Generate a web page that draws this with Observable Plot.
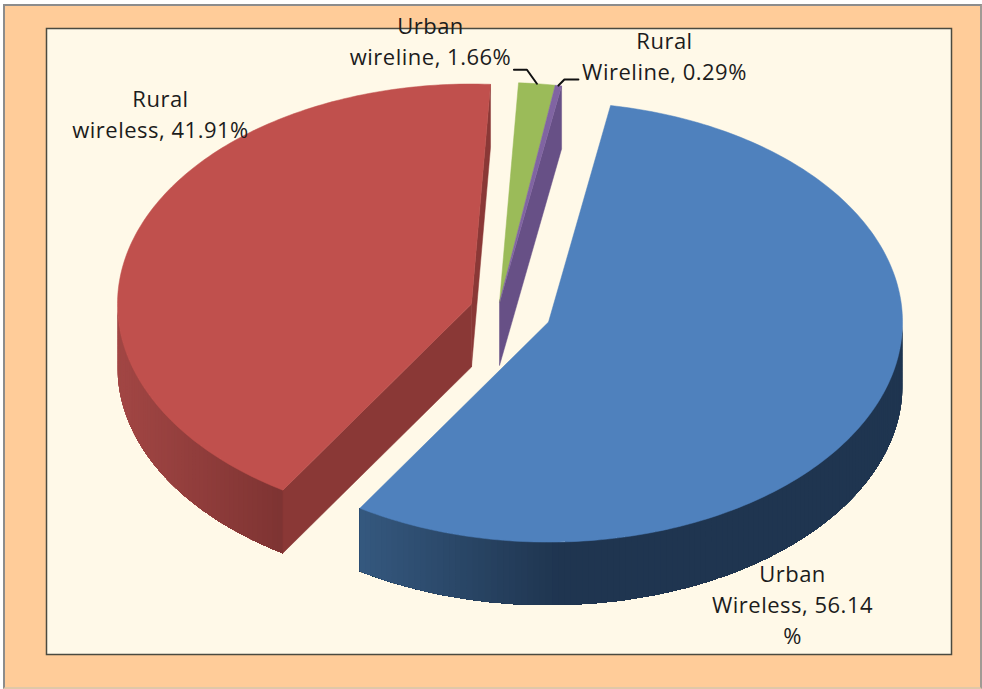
<!DOCTYPE html>
<html>
<head>
<meta charset="utf-8">
<script src="https://cdn.jsdelivr.net/npm/d3@7"></script>
<script src="https://cdn.jsdelivr.net/npm/@observablehq/plot@0.6"></script>
<style>
html,body{margin:0;padding:0;background:#fff;width:982px;height:689px;overflow:hidden}
#panel{position:absolute;left:3px;top:4px;width:975px;height:681px;background:#FFCC99;border:2px solid #8c8c8c;border-right-color:#a09a94;border-bottom-color:#e0c8a8}
#chart{position:absolute;left:0;top:0}
#chart text{letter-spacing:.5px}
</style>
</head>
<body>
<div id="panel"></div>
<div id="chart"></div>
<script>
const categories = ["Urban Wireless", "Rural wireless", "Urban wireline", "Rural Wireline"];
const shares = [56.14, 41.91, 1.66, 0.29];
const labels = ["Urban\nWireless, 56.14\n%", "Rural\nwireless, 41.91%", "Urban\nwireline, 1.66%", "Rural\nWireline, 0.29%"];
const topColors = ["#4F81BD", "#C0504D", "#9BBB59", "#8064A2"];
const firstAngle = 10.1;

// pie geometry in chart pixels
const rx = 354, ry = 220, depth = 63;
const apexes = [[548, 321.6], [471, 303.5], [499, 302], [499, 302]];
const rad = Math.PI / 180;

let acc = firstAngle;
const slices = categories.map((name, i) => {
  const a0 = acc, a1 = acc + shares[i] * 3.6;
  acc = a1;
  return {name, i, a0, a1, apex: apexes[i]};
});
const rim = (s, a) => [s.apex[0] + rx * Math.sin(a * rad), s.apex[1] - ry * Math.cos(a * rad)];
const down = ([x, y]) => [x, y + depth];

const walls = [], polys = [];
function addPoly(list, id, color, pts) {
  pts.forEach(([x, y]) => list.push({id, color, x, y}));
  list.push({id, color, x: pts[0][0], y: pts[0][1]});
}
// outer wall: overlapping runs, each one reaching to the far end so no seams show
function wall(s, a0, a1, colorAt) {
  const n = Math.ceil(Math.abs(a1 - a0));
  for (let k = 0; k < n; k++) {
    const u = a0 + (a1 - a0) * k / n;
    const top = [], bottom = [];
    for (let j = k; j <= n; j++) {
      const p = rim(s, a0 + (a1 - a0) * j / n);
      top.push(p);
      bottom.unshift(down(p));
    }
    addPoly(walls, `wall${s.i}-${k}`, colorAt(rim(s, u)[0]), [...top, ...bottom]);
  }
}
const [blue, red, green, purple] = slices;

wall(red, 270, red.a0, d3.scaleLinear([117, 283], ["#a24644", "#7d3332"]).clamp(true));
wall(blue, 90, blue.a1, d3.scaleLinear([360, 560, 902], ["#35597f", "#1f3550", "#1f3550"]).clamp(true));

// flat cut faces
addPoly(polys, "redEnd", "#8a3836", [red.apex, rim(red, red.a1), down(rim(red, red.a1)), down(red.apex)]);
addPoly(polys, "redCut", "#8a3836", [red.apex, rim(red, red.a0), down(rim(red, red.a0)), down(red.apex)]);
addPoly(polys, "purpleEnd", "#675086", [purple.apex, rim(purple, purple.a1), down(rim(purple, purple.a1)), down(purple.apex)]);

// top faces
slices.forEach((s) => {
  const pts = [s.apex];
  const n = Math.ceil(s.a1 - s.a0);
  for (let k = 0; k <= n; k++) pts.push(rim(s, s.a0 + (s.a1 - s.a0) * k / n));
  addPoly(polys, `top${s.i}`, topColors[s.i], pts);
});

// leader lines from the rim of the two small slices
const mid = (s) => rim(s, (s.a0 + s.a1) / 2);
const gm = mid(green), pm = mid(purple);
const leaders = [
  {id: "g", x: gm[0], y: gm[1]}, {id: "g", x: gm[0] - 10, y: gm[1] - 14}, {id: "g", x: gm[0] - 23, y: gm[1] - 14},
  {id: "p", x: pm[0], y: pm[1]}, {id: "p", x: pm[0] + 6, y: pm[1] - 6}, {id: "p", x: pm[0] + 20, y: pm[1] - 6}
];

const font = {fontFamily: "'Open Sans', sans-serif", fontSize: 22, lineHeight: 31 / 22, fill: "#1c1c1c", textAnchor: "middle", lineAnchor: "middle"};
const label = (i, x, y) => Plot.text([{t: labels[i], x, y}], {x: "x", y: "y", text: "t", ...font});

const chart = Plot.plot({
  width: 982,
  height: 689,
  marginLeft: 46, marginRight: 31, marginTop: 28, marginBottom: 35,
  x: {domain: [46, 951], axis: null},
  y: {domain: [654, 28], axis: null},
  color: {type: "identity"},
  style: {background: "transparent", overflow: "visible"},
  marks: [
    Plot.frame({fill: "#FFF9E8", stroke: "#4a4a40", strokeWidth: 1.5}),
    Plot.line(walls, {x: "x", y: "y", z: "id", fill: "color", stroke: "none", curve: "linear"}),
    Plot.line(polys, {x: "x", y: "y", z: "id", fill: "color", stroke: "color", strokeWidth: 0.5, curve: "linear"}),
    Plot.line(leaders, {x: "x", y: "y", z: "id", stroke: "#111", strokeWidth: 2, curve: "linear"}),
    label(0, 792, 602.5),
    label(1, 160, 112),
    label(2, 430, 39),
    label(3, 664, 54)
  ]
});
document.getElementById("chart").append(chart);
</script>
</body>
</html>
